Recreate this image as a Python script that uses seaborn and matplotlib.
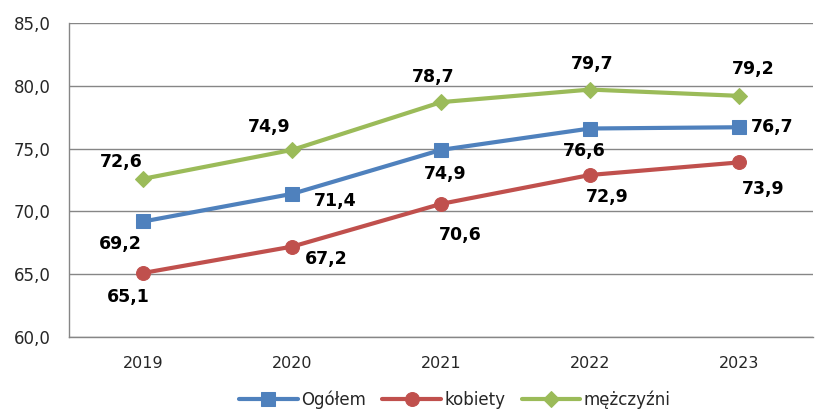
import matplotlib
matplotlib.use("Agg")
import matplotlib.pyplot as plt
import seaborn as sns
import pandas as pd
from matplotlib.ticker import FixedLocator

years = ["2019", "2020", "2021", "2022", "2023"]
ogolem = [69.2, 71.4, 74.9, 76.6, 76.7]
kobiety = [65.1, 67.2, 70.6, 72.9, 73.9]
mezczyzni = [72.6, 74.9, 78.7, 79.7, 79.2]
series_names = ["Ogółem", "kobiety", "mężczyźni"]
yticks = [60, 65, 70, 75, 80, 85]

colors = {"Ogółem": "#4F81BD", "kobiety": "#C0504D", "mężczyźni": "#9BBB59"}
markers = {"Ogółem": "s", "kobiety": "o", "mężczyźni": "D"}
msizes = {"Ogółem": 10.5, "kobiety": 10, "mężczyźni": 8}

# label offsets in pixels (dx right, dy down)
offsets = {
    "Ogółem": [(-23, 23), (43, 7), (4, 24), (-6, 22), (33, 0)],
    "kobiety": [(-15, 24), (34, 12), (19, 31), (17, 22), (24, 27)],
    "mężczyźni": [(-22, -17), (-23, -23), (-8, -25), (2, -26), (14, -27)],
}

rows = []
for name, vals in zip(series_names, [ogolem, kobiety, mezczyzni]):
    for i, (y, v) in enumerate(zip(years, vals)):
        rows.append({"x": i, "rok": y, "seria": name, "wartosc": v})
df = pd.DataFrame(rows)

sns.set_style("white")
plt.rcParams["font.family"] = ["DejaVu Sans"]

fig = plt.figure(figsize=(8.15, 4.12), dpi=100)
ax = fig.add_axes([69 / 815, 1 - 337 / 412, 1 - 69 / 815 - 0.002, (337 - 23) / 412])

for name in series_names:
    sub = df[df.seria == name]
    sns.lineplot(data=sub, x="x", y="wartosc", ax=ax, color=colors[name],
                 marker=markers[name], markersize=msizes[name], linewidth=3,
                 markeredgecolor=colors[name], label=name, legend=False)
    for i, v in enumerate(sub.wartosc):
        dx, dy = offsets[name][i]
        ax.annotate(f"{v:.1f}".replace(".", ","), (i, v),
                    xytext=(dx * 0.72, -dy * 0.72), textcoords="offset points",
                    ha="center", va="center", fontsize=12.5, fontweight="bold",
                    color="black")

ax.set_xlim(-0.5, 4.5)
ax.set_ylim(60, 85)
ax.set_yticks(yticks)
ax.set_yticklabels([f"{t:.1f}".replace(".", ",") for t in yticks], fontsize=12)
ax.set_xticks(range(len(years)))
ax.set_xticklabels(years, fontsize=11.5)
ax.xaxis.set_minor_locator(FixedLocator([-0.5, 0.5, 1.5, 2.5, 3.5, 4.5]))
ax.tick_params(axis="x", which="major", length=0, pad=14)
ax.tick_params(axis="x", which="minor", length=5, color="#868686", width=1, direction="out")
ax.tick_params(axis="y", length=5, color="#868686", width=1, direction="out", pad=8)
ax.set_xlabel("")
ax.set_ylabel("")
ax.grid(axis="y", color="#868686", linewidth=1)
ax.set_axisbelow(True)
for s in ["top", "right"]:
    ax.spines[s].set_visible(False)
for s in ["left", "bottom"]:
    ax.spines[s].set_color("#868686")
    ax.spines[s].set_linewidth(1)

handles, labels = ax.get_legend_handles_labels()
fig.legend(handles, labels, loc="lower center", bbox_to_anchor=(0.558, -0.028), ncol=3,
           frameon=False, fontsize=12, handlelength=3.5, columnspacing=1.0,
           handletextpad=0.2)

fig.savefig("out.png", dpi=100)
